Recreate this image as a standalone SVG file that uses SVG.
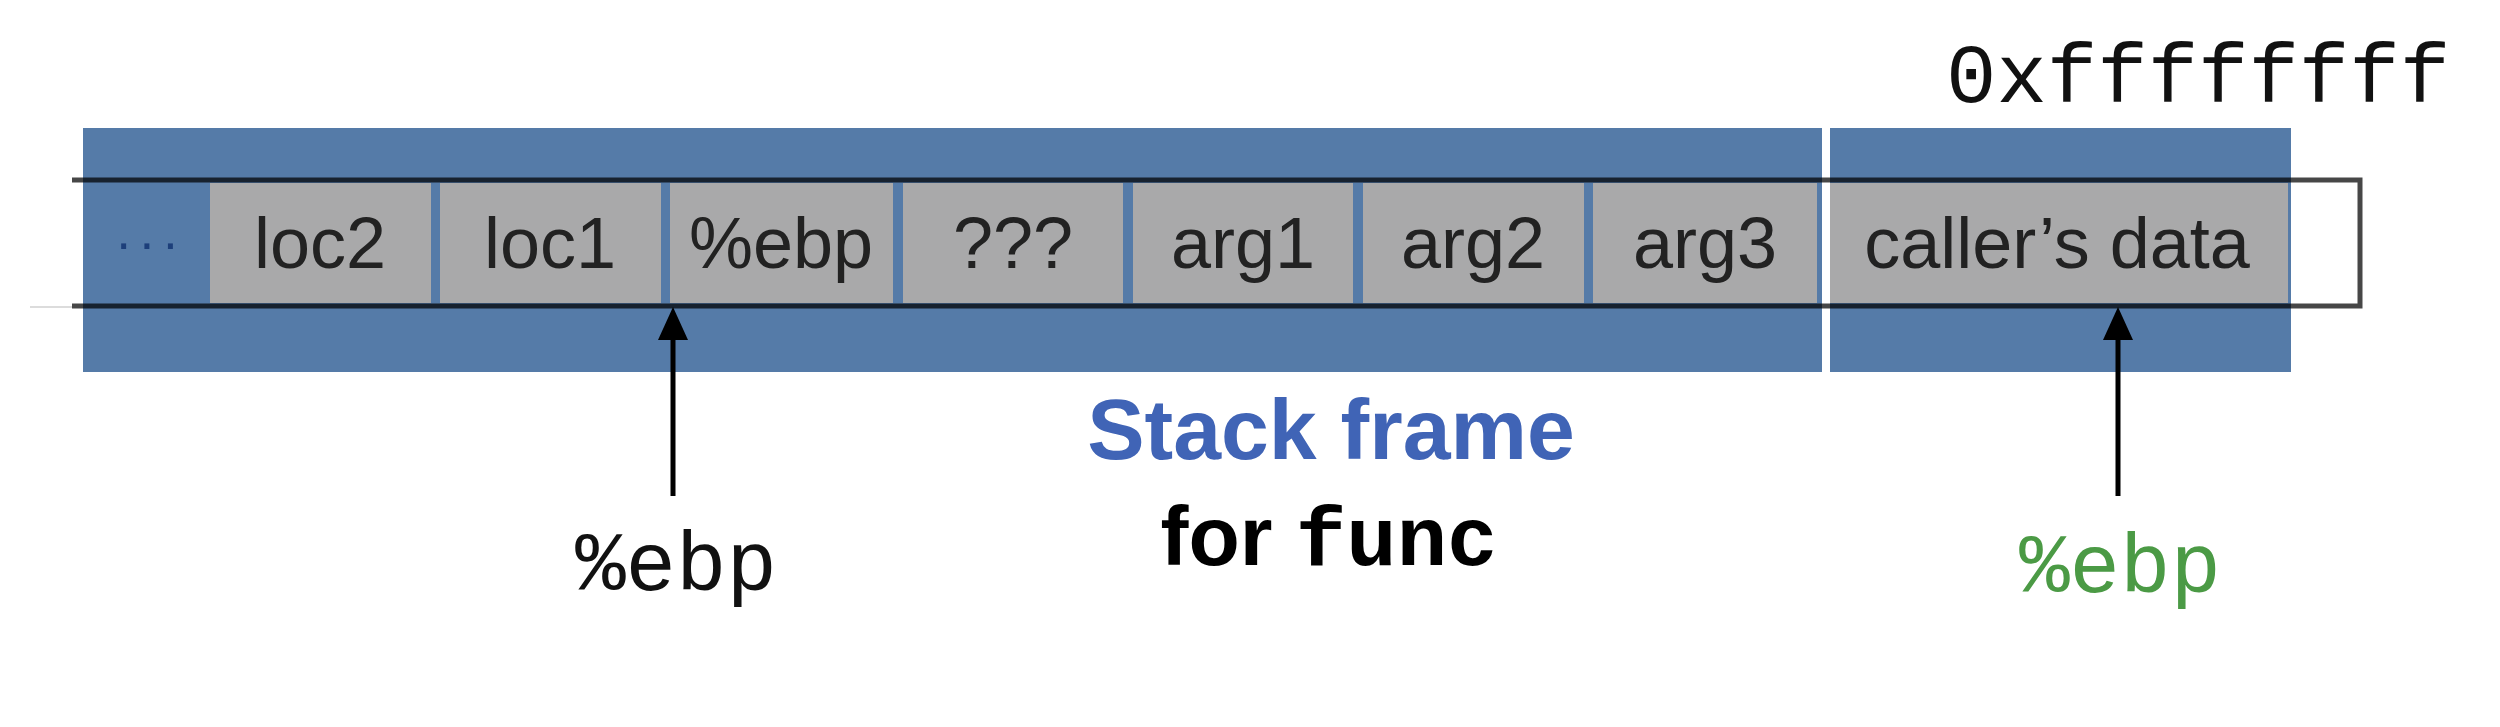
<svg xmlns="http://www.w3.org/2000/svg" width="2500" height="727" viewBox="0 0 2500 727">
<style>
.bg{fill:#557ba8}
.cell{fill:#a9a9aa}
.ct{font-family:"Liberation Sans",Arial,sans-serif;font-size:72px;fill:#222;text-anchor:middle}
.mono{font-family:"Liberation Mono","Courier New",monospace;font-size:84px}
.arr{stroke:#000;stroke-width:5;fill:none}
</style>
<rect width="2500" height="727" fill="#ffffff"/>
<g id="frame-bg">
<rect class="bg" x="83" y="128" width="1739" height="244"/>
<rect class="bg" x="1830" y="128" width="461" height="244"/>
</g>
<line x1="30" y1="307" x2="72" y2="307" stroke="#dcdcdc" stroke-width="2"/>
<g id="cells">
<g id="dots"><text x="150" y="260" font-family="Liberation Sans,sans-serif" font-size="52" fill="#1d3f7a" text-anchor="middle" letter-spacing="6">···</text></g>
<g id="loc2"><rect class="cell" x="210" y="183" width="221" height="120"/><text class="ct" x="320" y="268">loc2</text></g>
<g id="loc1"><rect class="cell" x="440" y="183" width="221" height="120"/><text class="ct" x="550" y="268">loc1</text></g>
<g id="ebp-slot"><rect class="cell" x="670" y="183" width="223" height="120"/><text class="ct" x="781" y="268">%ebp</text></g>
<g id="unknown"><rect class="cell" x="903" y="183" width="220" height="120"/><text class="ct" x="1013" y="268">???</text></g>
<g id="arg1"><rect class="cell" x="1133" y="183" width="220" height="120"/><text class="ct" x="1243" y="268">arg1</text></g>
<g id="arg2"><rect class="cell" x="1363" y="183" width="221" height="120"/><text class="ct" x="1473" y="268">arg2</text></g>
<g id="arg3"><rect class="cell" x="1593" y="183" width="224" height="120"/><text class="ct" x="1705" y="268">arg3</text></g>
<g id="callers-data"><rect class="cell" x="1830" y="183" width="458" height="120"/><text class="ct" x="2057" y="268">caller’s data</text></g>
</g>
<path d="M72,180 H2360 V306 H72" fill="none" stroke="#000" stroke-opacity="0.72" stroke-width="5"/>
<g id="addr"><text class="mono" x="1946" y="102" fill="#111" font-size="86">0xffffffff</text></g>
<g id="connectors">
<line class="arr" x1="673" y1="496" x2="673" y2="330"/>
<polygon points="673,307 658,340 688,340" fill="#000"/>
<line class="arr" x1="2118" y1="496" x2="2118" y2="330"/>
<polygon points="2118,307 2103,340 2133,340" fill="#000"/>
</g>
<g id="ebp-label"><text class="mono" x="676" y="590" text-anchor="middle" fill="#111">%ebp</text></g>
<g id="caller-ebp-label"><text class="mono" x="2120" y="592" text-anchor="middle" fill="#4b9a45">%ebp</text></g>
<g id="title">
<text x="1331" y="459" text-anchor="middle" font-family="Liberation Sans,Arial,sans-serif" font-weight="bold" font-size="86" fill="#4064b6">Stack frame</text>
<text x="1329" y="565" text-anchor="middle" font-weight="bold" fill="#000"><tspan font-family="Liberation Sans,Arial,sans-serif" font-size="84">for </tspan><tspan font-family="Liberation Mono,Courier New,monospace" font-size="84">func</tspan></text>
</g>
</svg>
